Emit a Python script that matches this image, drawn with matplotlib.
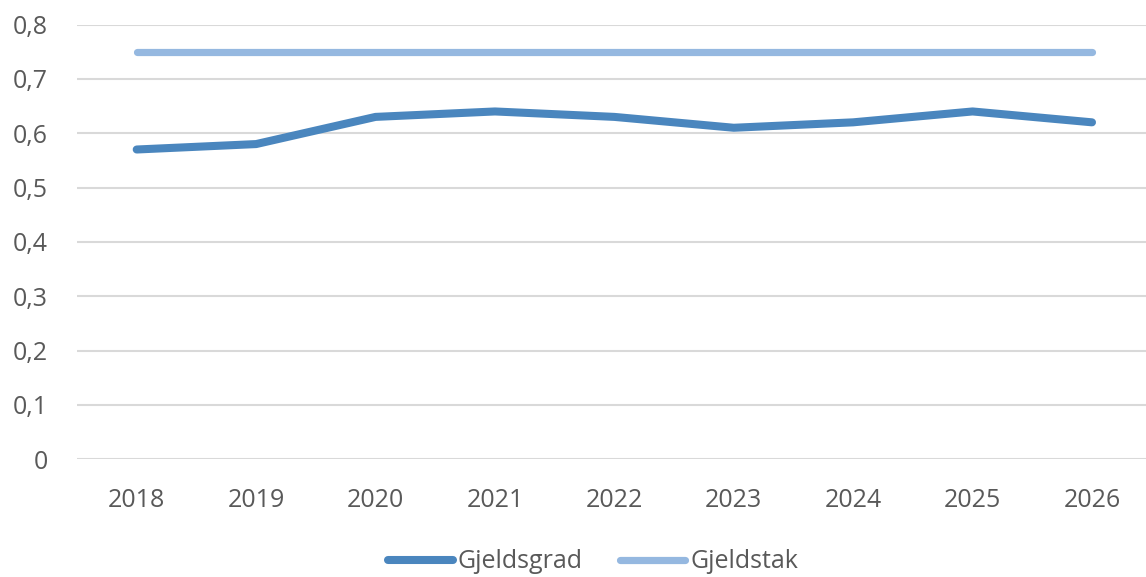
import matplotlib
matplotlib.use("Agg")
import matplotlib.pyplot as plt
from matplotlib.lines import Line2D

years = ["2018", "2019", "2020", "2021", "2022", "2023", "2024", "2025", "2026"]
gjeldsgrad = [0.57, 0.58, 0.63, 0.64, 0.63, 0.61, 0.62, 0.64, 0.62]
gjeldstak = [0.75, 0.75, 0.75, 0.75, 0.75, 0.75, 0.75, 0.75, 0.75]
yticks = [0, 0.1, 0.2, 0.3, 0.4, 0.5, 0.6, 0.7, 0.8]
ylabels = ["0", "0,1", "0,2", "0,3", "0,4", "0,5", "0,6", "0,7", "0,8"]

plt.rcParams['font.family'] = ['Open Sans', 'DejaVu Sans']
W, H = 1146, 577
fig = plt.figure(figsize=(W/100, H/100), dpi=100)
left, right, top, bottom = 77, 1146, 24.5, 459.3
ax = fig.add_axes([left/W, 1 - bottom/H, (right-left)/W, (bottom-top)/H])

x = list(range(len(years)))
c1 = "#4A86BE"
c2 = "#95B8E0"
ax.plot(x, gjeldsgrad, color=c1, lw=5.8, solid_capstyle='round', solid_joinstyle='round', zorder=3)
ax.plot(x, gjeldstak, color=c2, lw=5.2, solid_capstyle='round', zorder=3)

ax.set_ylim(0, 0.8)
ax.set_xlim(-0.5, 8 + (1146 - 1092) / 119.4)
ax.set_yticks(yticks)
ax.set_yticklabels(ylabels)
ax.set_xticks(x)
ax.set_xticklabels(years)
ax.grid(axis='y', color='#D9D9D9', lw=1.5, zorder=0)
for s in ax.spines.values():
    s.set_visible(False)
ax.tick_params(axis='both', length=0, colors='#595959', labelsize=18)
ax.tick_params(axis='y', pad=21)
ax.tick_params(axis='x', pad=21)

handles = [Line2D([], [], color=c1, lw=5.8, solid_capstyle='round'),
           Line2D([], [], color=c2, lw=5.2, solid_capstyle='round')]
leg = fig.legend(handles, ["Gjeldsgrad", "Gjeldstak"], loc='center',
                 bbox_to_anchor=(593/W, 1 - 562/H), ncol=2, frameon=False,
                 fontsize=18, handlelength=2.6, handletextpad=0.2, columnspacing=1.5,
                 labelcolor='#595959')

fig.savefig("out.png", dpi=100)
